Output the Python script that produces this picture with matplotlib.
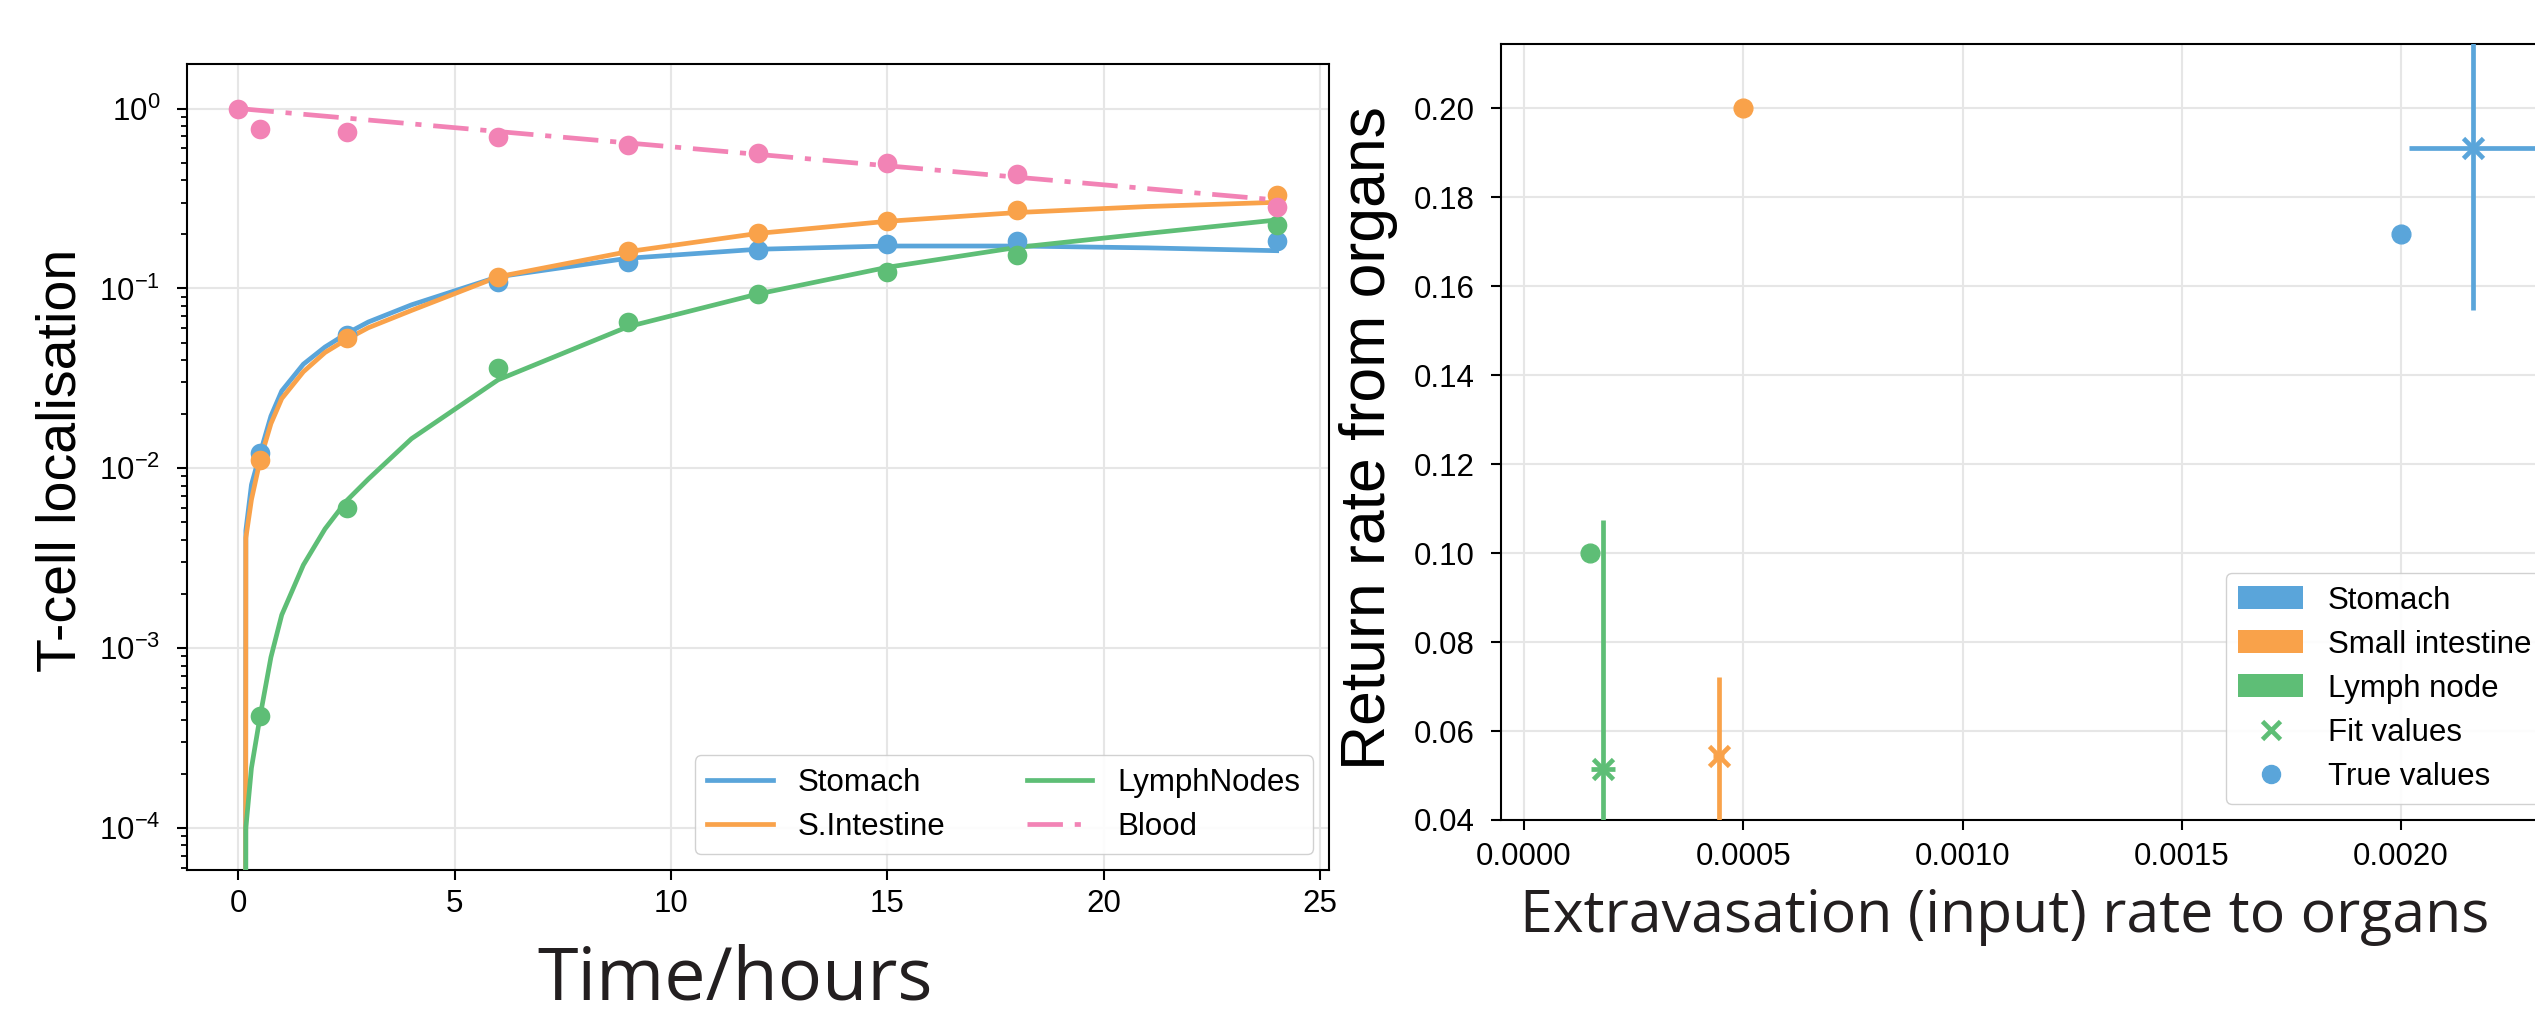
import matplotlib
matplotlib.use('Agg')
import matplotlib.pyplot as plt
import numpy as np
from matplotlib.patches import Patch
from matplotlib.lines import Line2D

plt.rcParams['font.family'] = ['Liberation Sans', 'DejaVu Sans']
plt.rcParams['mathtext.default'] = 'regular'
plt.rcParams['axes.unicode_minus'] = True

BLUE = '#5aa5da'
ORANGE = '#f9a24a'
GREEN = '#5ebe76'
PINK = '#f283b5'
TXT = '#231f20'

# ---- left panel data: T-cell localisation over time ----
t_blood = [0, 0.5, 2.5, 6, 9, 12, 15, 18, 24]
blood_obs = [1.0, 0.769, 0.743, 0.69, 0.63, 0.563, 0.50, 0.432, 0.285]

t_organ = [0.5, 2.5, 6, 9, 12, 15, 18, 24]
stomach_obs = [0.0121, 0.055, 0.109, 0.141, 0.163, 0.176, 0.183, 0.184]
intestine_obs = [0.0111, 0.0527, 0.116, 0.162, 0.202, 0.237, 0.273, 0.331]
lymph_obs = [0.00042, 0.0060, 0.036, 0.0653, 0.093, 0.123, 0.153, 0.225]

# model fit curves
t_fit = [0.16, 0.17, 0.3, 0.5, 0.75, 1.0, 1.5, 2.0, 2.5, 3.0, 4.0, 6, 9, 12, 15, 18, 21, 24]
stomach_fit = [1e-7, 0.0045, 0.0081, 0.0121, 0.0195, 0.0269, 0.0379, 0.0472, 0.0561,
               0.065, 0.081, 0.116, 0.147, 0.165, 0.172, 0.172, 0.168, 0.162]
intestine_fit = [1e-7, 0.0041, 0.0067, 0.0111, 0.0177, 0.0244, 0.0344, 0.044, 0.0521,
                 0.0604, 0.0754, 0.116, 0.160, 0.202, 0.236, 0.264, 0.285, 0.301]
lymph_fit = [1e-7, 0.0001, 0.000216, 0.000418, 0.00089, 0.00153, 0.0029, 0.0046, 0.0066,
             0.0087, 0.0146, 0.031, 0.0612, 0.093, 0.131, 0.169, 0.202, 0.240]
t_blood_fit = [0, 6, 12, 18, 24]
blood_fit = [1.0, 0.745, 0.556, 0.415, 0.31]

# ---- right panel data: fitted vs true rates ----
organs = ['Stomach', 'Small intestine', 'Lymph node']
organ_colors = [BLUE, ORANGE, GREEN]
true_in = [0.0020, 0.0005, 0.00015]
true_out = [0.1717, 0.200, 0.100]
fit_in = [0.002165, 0.000444, 0.000180]
fit_out = [0.1912, 0.0545, 0.0515]
fit_in_err = [0.000148, 0.000012, 0.000027]
fit_out_err = [0.0366, 0.0177, 0.056]

fig = plt.figure(figsize=(25.35, 10.19), dpi=100)

# ================= left panel =================
ax1 = fig.add_axes([0.0736, 0.1462, 0.4505, 0.791])
ax1.set_yscale('log')
ax1.plot(t_fit, stomach_fit, color=BLUE, lw=3.4, label='Stomach', zorder=3)
ax1.plot(t_fit, intestine_fit, color=ORANGE, lw=3.4, label='S.Intestine', zorder=3)
ax1.plot(t_fit, lymph_fit, color=GREEN, lw=3.4, label='LymphNodes', zorder=3)
ax1.plot(t_blood_fit, blood_fit, color=PINK, lw=3.4, label='Blood', zorder=3,
         dashes=(7.5, 2.5, 1.3, 2.5))
ms = 200
ax1.scatter(t_organ, stomach_obs, s=ms, color=BLUE, zorder=4, lw=0)
ax1.scatter(t_organ, intestine_obs, s=ms, color=ORANGE, zorder=4, lw=0)
ax1.scatter(t_organ, lymph_obs, s=ms, color=GREEN, zorder=4, lw=0)
ax1.scatter(t_blood, blood_obs, s=ms, color=PINK, zorder=4, lw=0)

ax1.set_xlim(-1.2, 25.2)
ax1.set_ylim(5.84e-5, 1.768)
ax1.set_xticks([0, 5, 10, 15, 20, 25])
ax1.grid(True, which='major', color='#e6e6e6', lw=1.5)
ax1.set_axisbelow(True)
ax1.tick_params(axis='both', which='major', labelsize=22.5, length=7, width=1.5,
                direction='out', colors='black')
ax1.tick_params(axis='x', pad=7)
ax1.tick_params(axis='y', pad=12)
ax1.tick_params(axis='y', which='minor', length=4, width=1.3)
for sp in ax1.spines.values():
    sp.set_color('black')
    sp.set_linewidth(1.5)
ax1.legend(loc='lower right', ncol=2, fontsize=22.5, handlelength=2.1,
           labelspacing=0.45, columnspacing=2.6, handletextpad=0.8,
           framealpha=0.9, edgecolor='#cccccc', borderaxespad=0.5)

fig.text(62 / 2535, 1 - 460 / 1019, 'T-cell localisation', rotation=90,
         ha='center', va='center', fontsize=40, color='black')
fig.text(735 / 2535, 2 / 1019, 'Time/hours', ha='center', va='bottom',
         fontsize=53, color=TXT, family=['Open Sans', 'DejaVu Sans'])

# ================= right panel =================
ax2 = fig.add_axes([1501 / 2535, 0.1953, 0.4175, 0.7615])
for i in range(len(organs)):
    ax2.errorbar(fit_in[i], fit_out[i], xerr=fit_in_err[i], yerr=fit_out_err[i],
                 fmt='x', color=organ_colors[i], ms=14, mew=3.4, elinewidth=3.4,
                 capsize=0, zorder=3)
    ax2.plot(true_in[i], true_out[i], 'o', color=organ_colors[i], ms=13.5, zorder=3)

ax2.set_xlim(-0.0000525, 0.002361)
ax2.set_ylim(0.04, 0.2145)
ax2.set_xticks([0.0, 0.0005, 0.0010, 0.0015, 0.0020])
ax2.set_xticklabels(['0.0000', '0.0005', '0.0010', '0.0015', '0.0020'])
ax2.set_yticks([0.04, 0.06, 0.08, 0.10, 0.12, 0.14, 0.16, 0.18, 0.20])
ax2.set_yticklabels(['0.04', '0.06', '0.08', '0.10', '0.12', '0.14', '0.16', '0.18', '0.20'])
ax2.grid(True, color='#e6e6e6', lw=1.5)
ax2.set_axisbelow(True)
ax2.tick_params(axis='both', labelsize=22.5, length=7, width=1.5, direction='out')
ax2.tick_params(axis='x', pad=9)
ax2.tick_params(axis='y', pad=12)
for sp in ax2.spines.values():
    sp.set_color('black')
    sp.set_linewidth(1.5)

handles = [Patch(facecolor=c, edgecolor='none', label=n) for n, c in zip(organs, organ_colors)]
handles.append(Line2D([], [], ls='none', marker='x', color=GREEN, ms=13, mew=3.4,
                      label='Fit values'))
handles.append(Line2D([], [], ls='none', marker='o', color=BLUE, ms=13, label='True values'))
ax2.legend(handles=handles, loc='lower right', fontsize=22.5, handlelength=2.06,
           handleheight=0.75, labelspacing=0.45, handletextpad=0.8,
           framealpha=0.9, edgecolor='#cccccc', borderaxespad=0.5)

fig.text(1369 / 2535, 1 - 438 / 1019, 'Return rate from organs', rotation=90,
         ha='center', va='center', fontsize=45, color='black')
fig.text(2005 / 2535, 1 - 932 / 1019, 'Extravasation (input) rate to organs',
         ha='center', va='baseline', fontsize=42.5, color=TXT,
         family=['Open Sans', 'DejaVu Sans'])

fig.savefig('out.png', dpi=100)
